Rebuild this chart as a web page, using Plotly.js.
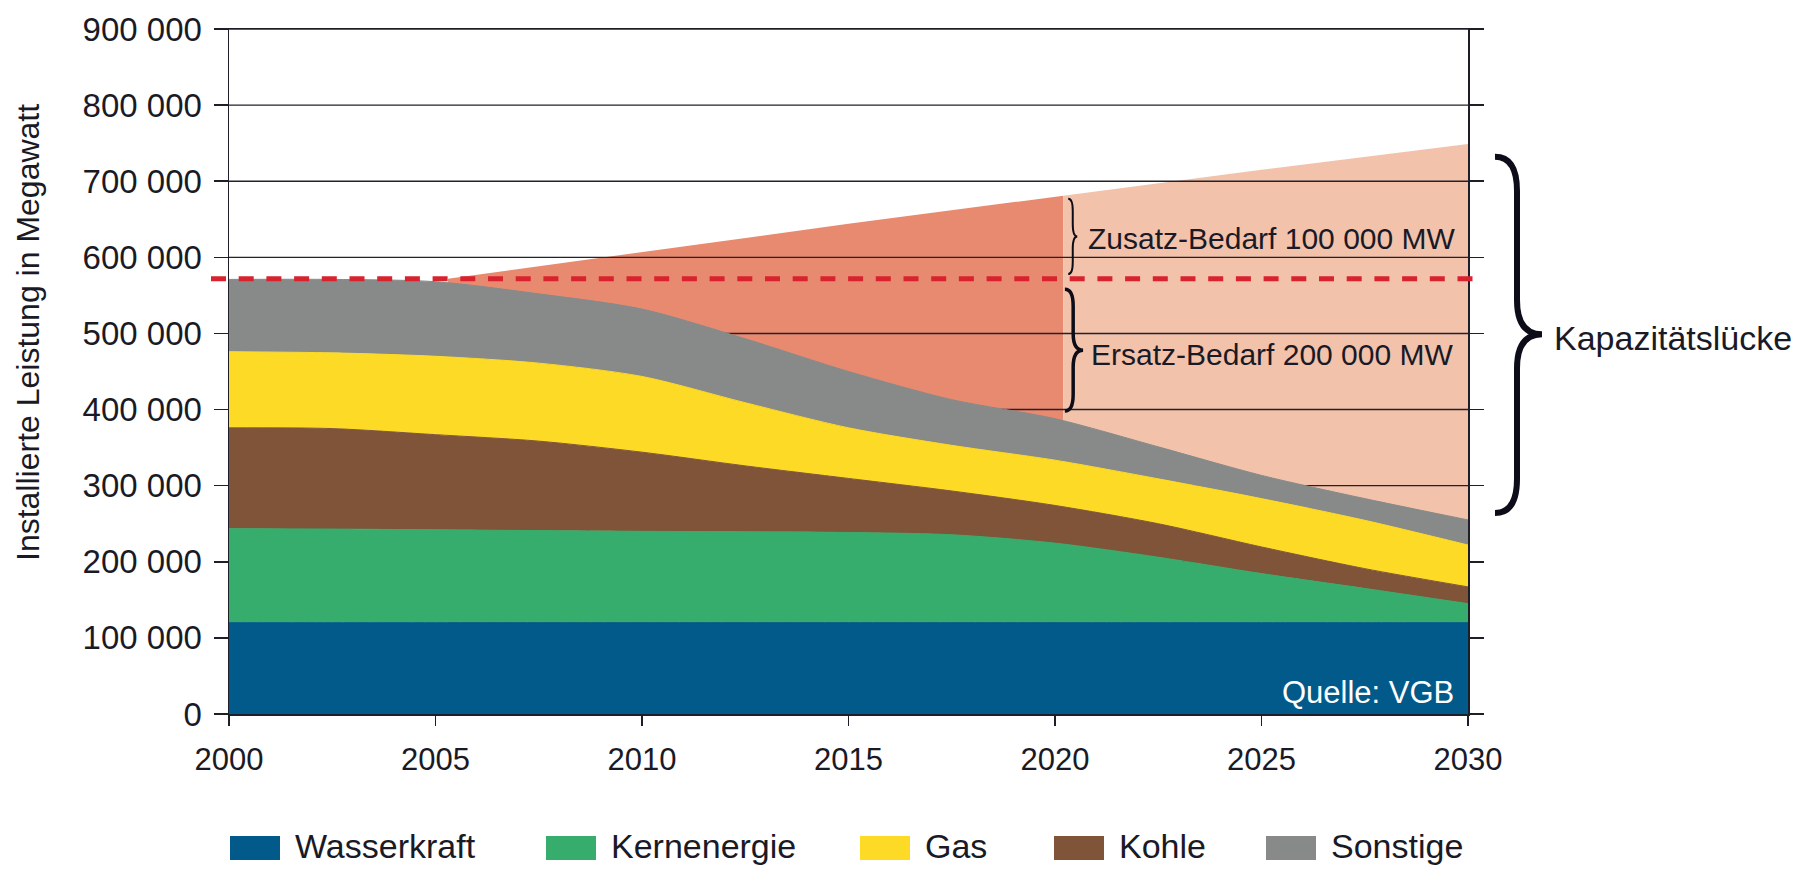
<!DOCTYPE html>
<html>
<head>
<meta charset="utf-8">
<script src="https://cdn.plot.ly/plotly-3.0.1.min.js"></script>
<style>
html,body{margin:0;padding:0;background:#ffffff;}
#chart{width:1805px;height:869px;}
</style>
</head>
<body>
<div id="chart"></div>
<script>
// ---------------- DATA ----------------
const years = [2000, 2002.5, 2005, 2007.5, 2010, 2012.5, 2015, 2017.5, 2020, 2022.5, 2025, 2027.5, 2030];
const wasserkraft = [120000, 120000, 120000, 120000, 120000, 120000, 120000, 120000, 120000, 120000, 120000, 120000, 120000];
const kernenergie = [123500, 123000, 122000, 121000, 120000, 119500, 118500, 115500, 104500, 86000, 64500, 45000, 25000];
const kohle       = [132500, 132000, 125000, 117500, 104000, 86500, 71000, 57500, 49500, 44000, 35000, 26000, 22000];
const gas         = [100000, 99500, 103000, 102500, 99500, 83000, 66500, 60000, 59500, 59000, 63500, 63500, 55000];
const sonstige    = [95000, 96500, 98000, 91000, 88500, 84000, 74000, 60000, 54500, 42000, 30500, 28500, 33000];

// Bedarf (demand) line: part up to 2020 and part after 2020
const demandYearsA = [2005.3, 2010, 2015, 2020.2];
const demandA      = [572000, 607000, 644000, 681000];
const demandYearsB = [2020.2, 2025, 2030];
const demandB      = [681000, 715000, 749000];

// installed capacity level in 2000 (dashed red line)
const level2000 = 572000;

const xTickVals = [2000, 2005, 2010, 2015, 2020, 2025, 2030];
const xTickLabels = ['2000', '2005', '2010', '2015', '2020', '2025', '2030'];
const yTickVals = [0, 100000, 200000, 300000, 400000, 500000, 600000, 700000, 800000, 900000];
const yTickLabels = ['0', '100 000', '200 000', '300 000', '400 000', '500 000', '600 000', '700 000', '800 000', '900 000'];

const seriesNames  = ['Wasserkraft', 'Kernenergie', 'Kohle', 'Gas', 'Sonstige']; // stacking order
const seriesValues = [wasserkraft, kernenergie, kohle, gas, sonstige];
const seriesColors = ['#015a8a', '#36ad6c', '#7f5439', '#fdda25', '#878a89'];
const legendOrder  = ['Wasserkraft', 'Kernenergie', 'Gas', 'Kohle', 'Sonstige'];

const yTitle = 'Installierte Leistung in Megawatt';
const labelZusatz = 'Zusatz-Bedarf 100 000 MW';
const labelErsatz = 'Ersatz-Bedarf 200 000 MW';
const labelLuecke = 'Kapazitätslücke';
const labelQuelle = 'Quelle: VGB';

// ---------------- LAYOUT HELPERS ----------------
const W = 1805, H = 869;
const M = {l: 229, r: 337, t: 29, b: 155};
const PW = W - M.l - M.r, PH = H - M.t - M.b;
const px = v => (v - M.l) / PW;          // page pixel x -> paper x
const py = v => (H - M.b - v) / PH;      // page pixel y -> paper y
const INK = '#1a1a26';
const FONT = 'Liberation Sans, Arial, Helvetica, sans-serif';

// ---------------- TRACES ----------------
const traces = [];
traces.push({
  x: demandYearsA, y: demandA, type: 'scatter', mode: 'lines',
  fill: 'tozeroy', fillcolor: '#e88a6f', line: {width: 0, color: '#e88a6f'},
  showlegend: false, hoverinfo: 'skip'
});
traces.push({
  x: demandYearsB, y: demandB, type: 'scatter', mode: 'lines',
  fill: 'tozeroy', fillcolor: '#f2c2ab', line: {width: 0, color: '#f2c2ab'},
  showlegend: false, hoverinfo: 'skip'
});
// grid lines (drawn above the demand areas, below the stacked areas)
const gx = [], gy = [];
yTickVals.filter(v => v > 0).forEach(v => {
  gx.push(xTickVals[0], xTickVals[xTickVals.length - 1], null);
  gy.push(v, v, null);
});
traces.push({
  x: gx, y: gy, type: 'scatter', mode: 'lines',
  line: {color: '#22222c', width: 1.4}, showlegend: false, hoverinfo: 'skip'
});
seriesNames.forEach((name, i) => {
  traces.push({
    x: years, y: seriesValues[i], name: name, type: 'scatter', mode: 'lines',
    stackgroup: 'one', fillcolor: seriesColors[i],
    line: {color: seriesColors[i], width: 1, shape: 'spline', smoothing: 0.8},
    showlegend: false
  });
});

// ---------------- SHAPES ----------------
function bracePath(xEnd, xSpine, xTip, yTop, yBot, yMid, r) {
  return 'M' + xEnd + ',' + yTop +
    ' Q' + xSpine + ',' + yTop + ' ' + xSpine + ',' + (yTop - r) +
    ' L' + xSpine + ',' + (yMid + r) +
    ' Q' + xSpine + ',' + yMid + ' ' + xTip + ',' + yMid +
    ' Q' + xSpine + ',' + yMid + ' ' + xSpine + ',' + (yMid - r) +
    ' L' + xSpine + ',' + (yBot + r) +
    ' Q' + xSpine + ',' + yBot + ' ' + xEnd + ',' + yBot;
}

const shapes = [];
// dashed red reference line
shapes.push({
  type: 'line', xref: 'paper', yref: 'y', layer: 'above',
  x0: px(211), x1: px(1484), y0: level2000, y1: level2000,
  line: {color: '#d8232f', width: 5, dash: '15px,12.7px'}
});
// brace Zusatz-Bedarf
shapes.push({
  type: 'path', xref: 'x', yref: 'y', layer: 'above',
  path: bracePath(2020.32, 2020.43, 2020.54, 677000, 578000, 627500, 16000),
  line: {color: '#0d0d1a', width: 2}
});
// brace Ersatz-Bedarf
shapes.push({
  type: 'path', xref: 'x', yref: 'y', layer: 'above',
  path: bracePath(2020.24, 2020.44, 2020.68, 558000, 398000, 478000, 22000),
  line: {color: '#0d0d1a', width: 3.5}
});
// big brace Kapazitätslücke
shapes.push({
  type: 'path', xref: 'paper', yref: 'y', layer: 'above',
  path: bracePath(px(1495), px(1517), px(1542), 732000, 264000, 499000, 45000),
  line: {color: '#0d0d1a', width: 6}
});

// legend (manual)
const legendSwatchX = [230, 546, 860, 1054, 1266];
const annotations = [];
legendOrder.forEach((name, i) => {
  const c = seriesColors[seriesNames.indexOf(name)];
  const x0 = legendSwatchX[i];
  shapes.push({
    type: 'rect', xref: 'paper', yref: 'paper',
    x0: px(x0), x1: px(x0 + 50), y0: py(860), y1: py(836),
    fillcolor: c, line: {width: 0}
  });
  annotations.push({
    xref: 'paper', yref: 'paper', x: px(x0 + 63), y: py(846),
    xanchor: 'left', yanchor: 'middle', showarrow: false, text: name,
    font: {family: FONT, size: 34, color: INK}
  });
});

annotations.push({
  xref: 'paper', yref: 'paper', x: px(28), y: py(333), textangle: -90,
  xanchor: 'center', yanchor: 'middle', showarrow: false, text: yTitle,
  font: {family: FONT, size: 32, color: INK}
});
annotations.push({
  xref: 'paper', yref: 'paper', x: px(1086), y: py(238),
  xanchor: 'left', yanchor: 'middle', showarrow: false, text: labelZusatz,
  font: {family: FONT, size: 30, color: INK}
});
annotations.push({
  xref: 'paper', yref: 'paper', x: px(1089), y: py(354),
  xanchor: 'left', yanchor: 'middle', showarrow: false, text: labelErsatz,
  font: {family: FONT, size: 30, color: INK}
});
annotations.push({
  xref: 'paper', yref: 'paper', x: px(1552), y: py(338),
  xanchor: 'left', yanchor: 'middle', showarrow: false, text: labelLuecke,
  font: {family: FONT, size: 34, color: INK}
});
annotations.push({
  xref: 'paper', yref: 'paper', x: px(1280), y: py(692),
  xanchor: 'left', yanchor: 'middle', showarrow: false, text: labelQuelle,
  font: {family: FONT, size: 31, color: '#ffffff'}
});

const layout = {
  width: W, height: H,
  margin: {l: M.l, r: M.r, t: M.t, b: M.b, pad: 0},
  paper_bgcolor: '#ffffff', plot_bgcolor: 'rgba(0,0,0,0)',
  font: {family: FONT, color: INK},
  showlegend: false,
  xaxis: {
    range: [2000, 2030], tickmode: 'array', tickvals: xTickVals, ticktext: xTickLabels,
    ticks: 'outside', ticklen: 10, tickwidth: 1.5, tickcolor: '#1e1e28',
    showline: true, linecolor: '#1e1e28', linewidth: 1.5, mirror: true,
    showgrid: false, zeroline: false, fixedrange: true,
    tickfont: {family: FONT, size: 31, color: INK}, ticklabelstandoff: 7
  },
  yaxis: {
    range: [0, 900000], tickmode: 'array', tickvals: yTickVals, ticktext: yTickLabels,
    ticks: 'outside', ticklen: 14, tickwidth: 1.5, tickcolor: '#1e1e28',
    showline: true, linecolor: '#1e1e28', linewidth: 1.5, mirror: 'ticks',
    showgrid: false, zeroline: false, fixedrange: true,
    tickfont: {family: FONT, size: 33, color: INK}, ticklabelstandoff: 5
  },
  shapes: shapes,
  annotations: annotations
};

Plotly.newPlot('chart', traces, layout, {displayModeBar: false, staticPlot: true});
</script>
</body>
</html>
